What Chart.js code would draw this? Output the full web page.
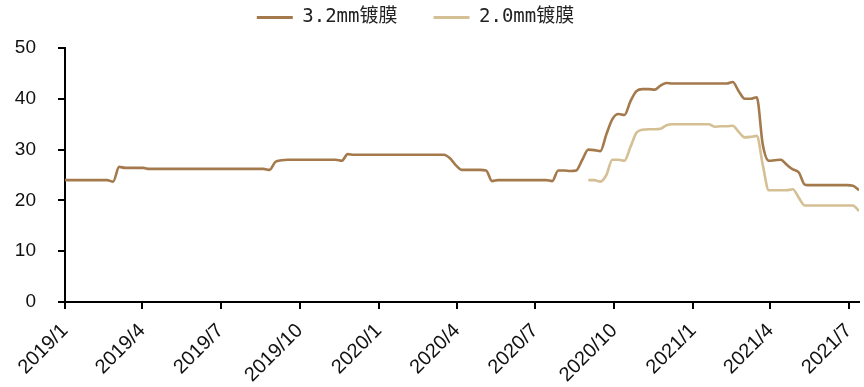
<!DOCTYPE html>
<html>
<head>
<meta charset="utf-8">
<script src="https://cdn.jsdelivr.net/npm/chart.js@4.4.1/dist/chart.umd.min.js"></script>
<style>
  html, body { margin: 0; padding: 0; background: #fff; }
  #wrap { width: 864px; height: 387px; }
</style>
</head>
<body>
<div id="wrap"><canvas id="c" width="864" height="387"></canvas></div>
<script>
// Weekly price series (元/平方米), one value per week starting at seriesStart
const seriesStart = '2019-01-01';
const film20From = '2020-09-01';
const tickLabels = ['2019/1', '2019/4', '2019/7', '2019/10', '2020/1', '2020/4',
                    '2020/7', '2020/10', '2021/1', '2021/4', '2021/7'];
const seriesNames = ['3.2mm镀膜', '2.0mm镀膜'];

const film32 = [
  24.0, 24.0, 24.0, 24.0, 24.0, 24.0, 24.0, 24.0, 23.7, 26.6,
  26.4, 26.4, 26.4, 26.4, 26.2, 26.2, 26.2, 26.2, 26.2, 26.2,
  26.2, 26.2, 26.2, 26.2, 26.2, 26.2, 26.2, 26.2, 26.2, 26.2,
  26.2, 26.2, 26.2, 26.2, 26.0, 27.6, 27.9, 28.0, 28.0, 28.0,
  28.0, 28.0, 28.0, 28.0, 28.0, 28.0, 27.8, 29.1, 29.0, 29.0,
  29.0, 29.0, 29.0, 29.0, 29.0, 29.0, 29.0, 29.0, 29.0, 29.0,
  29.0, 29.0, 29.0, 29.0, 28.3, 26.9, 26.0, 26.0, 26.0, 26.0,
  25.9, 23.8, 24.0, 24.0, 24.0, 24.0, 24.0, 24.0, 24.0, 24.0,
  24.0, 23.8, 25.9, 25.9, 25.8, 25.9, 28.0, 30.0, 29.9, 29.7,
  33.0, 36.0, 37.0, 36.8, 39.5, 41.5, 41.9, 41.9, 41.8, 42.6,
  43.1, 43.0, 43.0, 43.0, 43.0, 43.0, 43.0, 43.0, 43.0, 43.0,
  43.0, 43.3, 41.5, 40.0, 40.0, 40.3, 31.0, 27.8, 27.9, 28.0,
  27.0, 26.1, 25.5, 23.1, 23.0, 23.0, 23.0, 23.0, 23.0, 23.0,
  23.0, 22.9, 22.0
];

const film20 = [
  24.0, 24.0, 23.7, 25.0, 28.0, 28.0, 27.8, 30.5, 33.3, 33.9,
  34.0, 34.0, 34.1, 34.8, 35.0, 35.0, 35.0, 35.0, 35.0, 35.0,
  35.0, 34.5, 34.6, 34.6, 34.7, 33.5, 32.4, 32.5, 32.7, 27.0,
  22.0, 22.0, 22.0, 22.0, 22.2, 20.5, 19.0, 19.0, 19.0, 19.0,
  19.0, 19.0, 19.0, 19.0, 19.0, 17.9
];

const DAY = 86400000;
const t0 = Date.parse(seriesStart + 'T00:00:00Z');
const dayOf = s => Math.round((Date.parse(s + 'T00:00:00Z') - t0) / DAY);
const tickDays = tickLabels.map(l => {
  const [y, m] = l.split('/').map(Number);
  return Math.round((Date.UTC(y, m - 1, 1) - t0) / DAY);
});
const offset20 = dayOf(film20From);
const pts32 = film32.map((v, i) => ({ x: i * 7, y: v }));
const pts20 = film20.map((v, i) => ({ x: offset20 + i * 7, y: v }));
const xMax = pts32[pts32.length - 1].x;

const sansFont = "'Liberation Sans', Arial, sans-serif";
const axisColor = '#000';

// nudge the legend block up and slightly left
const legendShift = {
  id: 'legendShift',
  afterLayout(chart) {
    const lg = chart.legend;
    if (lg) {
      lg.left -= 14; lg.right -= 14;
      lg.top -= 11; lg.bottom -= 11;
    }
  }
};

new Chart(document.getElementById('c'), {
  type: 'line',
  data: {
    datasets: [
      { label: seriesNames[0], data: pts32, borderColor: '#A47A4C', backgroundColor: '#A47A4C',
        borderWidth: 2.6, pointRadius: 0, cubicInterpolationMode: 'monotone', fill: false },
      { label: seriesNames[1], data: pts20, borderColor: '#D5BF94', backgroundColor: '#D5BF94',
        borderWidth: 2.6, pointRadius: 0, cubicInterpolationMode: 'monotone', fill: false }
    ]
  },
  options: {
    responsive: false,
    animation: false,
    devicePixelRatio: 1,
    layout: { padding: { left: 0, right: 5, top: -17, bottom: 0 } },
    plugins: {
      tooltip: { enabled: false },
      legend: {
        position: 'top',
        labels: {
          boxWidth: 36,
          boxHeight: 3,
          padding: 36,
          color: '#222',
          font: { family: "'DejaVu Sans Mono', 'Noto Sans CJK SC', monospace", size: 19 },
          generateLabels(chart) {
            return chart.data.datasets.map((ds, i) => ({
              text: ds.label, fillStyle: ds.borderColor, strokeStyle: ds.borderColor,
              lineWidth: 0, hidden: false, datasetIndex: i, fontColor: '#222'
            }));
          }
        }
      }
    },
    scales: {
      x: {
        type: 'linear',
        min: 0,
        max: xMax,
        afterBuildTicks(scale) { scale.ticks = tickDays.map(v => ({ value: v })); },
        afterFit(scale) { scale.height = 85; scale.paddingRight = 0; scale.paddingLeft = 0; },
        border: { display: true, color: axisColor, width: 2 },
        grid: { display: true, drawOnChartArea: false, drawTicks: true, tickLength: 7,
                color: axisColor, lineWidth: 2 },
        ticks: {
          autoSkip: false, maxRotation: 45, minRotation: 45, padding: 10,
          color: '#111', font: { family: sansFont, size: 20 },
          callback(v) { const k = tickDays.indexOf(v); return k >= 0 ? tickLabels[k] : ''; }
        }
      },
      y: {
        min: 0,
        max: 50,
        afterFit(scale) { scale.width = 65; },
        border: { display: true, color: axisColor, width: 2 },
        grid: { display: true, drawOnChartArea: false, drawTicks: true, tickLength: 7,
                color: axisColor, lineWidth: 2 },
        ticks: { stepSize: 10, padding: 22, color: '#111', font: { family: sansFont, size: 19 } }
      }
    }
  },
  plugins: [legendShift]
});
</script>
</body>
</html>
